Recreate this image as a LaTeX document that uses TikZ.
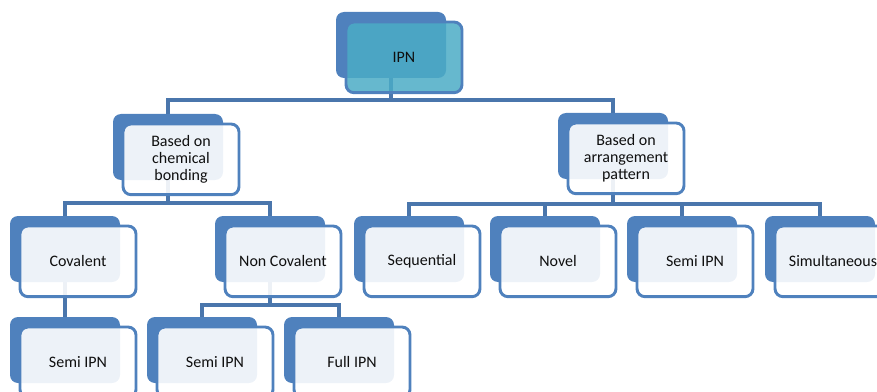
\documentclass[tikz,border=0pt]{standalone}
\usepackage{fontspec}
\setmainfont{Carlito}
\usetikzlibrary{backgrounds}
\definecolor{bblue}{RGB}{79,129,189}
\definecolor{lblue}{RGB}{74,118,172}
\definecolor{teal}{RGB}{75,172,198}
\definecolor{txt}{RGB}{15,15,15}
\tikzset{
  backbox/.style={draw=none, fill=bblue, rounded corners=6pt, inner sep=0pt, outer sep=0pt,
    minimum width=82.5pt, minimum height=49.5pt, anchor=north west},
  frontbox/.style={draw=bblue, line width=2.2pt, fill=white, fill opacity=0.9, text opacity=1,
    rounded corners=6pt, inner sep=0pt, outer sep=0pt, minimum width=87pt, minimum height=53pt,
    anchor=north west, align=center, text=txt, font=\fontsize{12}{12.8}\selectfont},
  topbox/.style={frontbox, fill=teal, fill opacity=0.85},
  link/.style={draw=lblue, line width=2.6pt}
}
\newcommand\twobox[5][frontbox]{%
  \node[backbox] (#2b) at (#3,#4) {};
  \node[#1] (#2) at (#3+10,#4+10) {#5};
}
\begin{document}
\begin{tikzpicture}[x=0.75pt,y=-0.75pt]
\useasboundingbox (0,0) rectangle (877,392);
\twobox[topbox]{ipn}{336}{12}{IPN}
\twobox{chem}{113}{114}{Based on\\chemical\\bonding}
\twobox{arr}{558}{113}{Based on\\arrangement\\pattern}
\twobox{cov}{10}{216}{Covalent}
\twobox{ncov}{215}{216}{Non Covalent}
\twobox{seq}{354}{216}{Sequential}
\twobox{nov}{490}{216}{Novel}
\twobox{semi}{627}{216}{Semi IPN}
\twobox{simul}{765}{216}{Simultaneous}
\twobox{sa}{10}{317}{Semi IPN}
\twobox{sx}{147}{317}{Semi IPN}
\twobox{full}{284}{317}{Full IPN}
\coordinate (bus1) at (0,100);
\coordinate (bus2) at (0,203);
\coordinate (bus3) at (0,204);
\coordinate (bus4) at (0,305);
\begin{scope}[on background layer]
\draw[link] (ipnb.south) -- (ipnb.south |- bus1);
\draw[link] (chemb.north) |- (arrb.north |- bus1) -- (arrb.north);
\draw[link] (chemb.south) -- (chemb.south |- bus2);
\draw[link] (covb.north) |- (ncovb.north |- bus2) -- (ncovb.north);
\draw[link] (arrb.south) -- (arrb.south |- bus3);
\draw[link] (seqb.north) |- (simulb.north |- bus3) -- (simulb.north);
\draw[link] (novb.north) -- (novb.north |- bus3);
\draw[link] (semib.north) -- (semib.north |- bus3);
\draw[link] (covb.south) -- (sab.north);
\draw[link] (ncovb.south) -- (ncovb.south |- bus4);
\draw[link] (sxb.north) |- (fullb.north |- bus4) -- (fullb.north);
\end{scope}
\end{tikzpicture}
\end{document}
